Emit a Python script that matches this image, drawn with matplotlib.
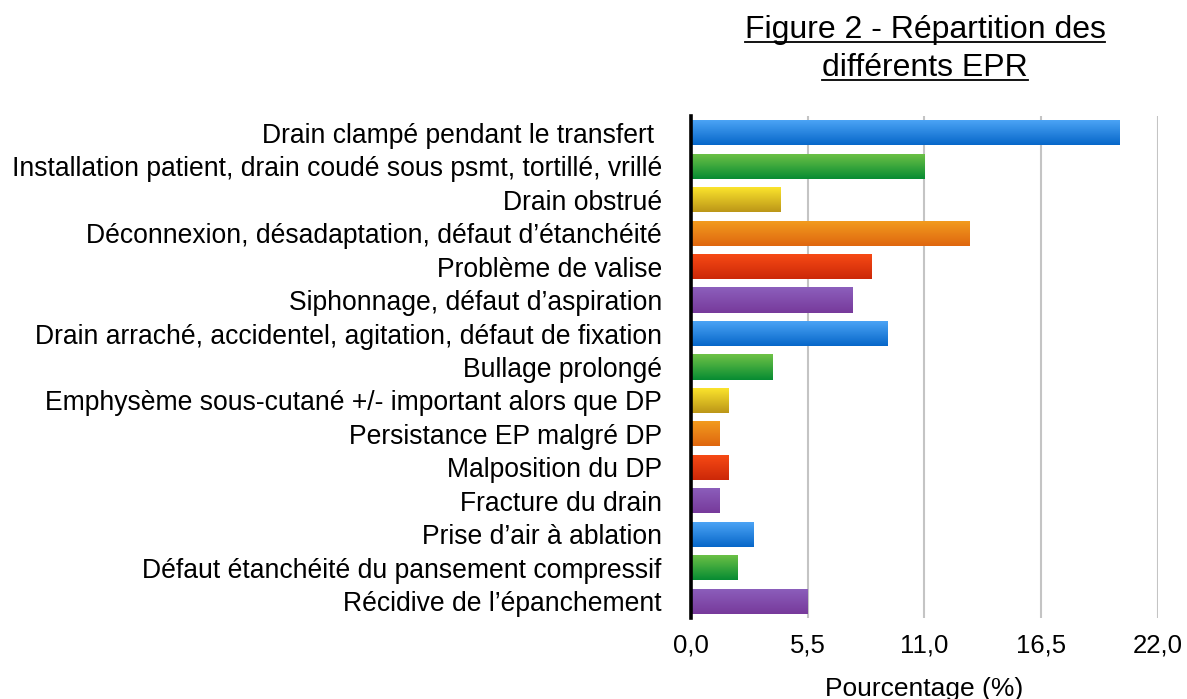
import matplotlib
matplotlib.use("Agg")
import matplotlib.pyplot as plt
import numpy as np
from matplotlib.colors import to_rgb
from matplotlib.lines import Line2D

categories = [
    "Drain clampé pendant le transfert ",
    "Installation patient, drain coudé sous psmt, tortillé, vrillé",
    "Drain obstrué",
    "Déconnexion, désadaptation, défaut d\u2019étanchéité",
    "Problème de valise",
    "Siphonnage, défaut d\u2019aspiration",
    "Drain arraché, accidentel, agitation, défaut de fixation",
    "Bullage prolongé",
    "Emphysème sous-cutané +/- important alors que DP",
    "Persistance EP malgré DP",
    "Malposition du DP",
    "Fracture du drain",
    "Prise d\u2019air à ablation",
    "Défaut étanchéité du pansement compressif",
    "Récidive de l\u2019épanchement",
]
values = [20.2, 11.0, 4.2, 13.1, 8.5, 7.6, 9.25, 3.85, 1.75, 1.35, 1.75, 1.35, 2.95, 2.2, 5.5]
xticks = [0.0, 5.5, 11.0, 16.5, 22.0]
xtick_labels = ["0,0", "5,5", "11,0", "16,5", "22,0"]
title_lines = ["Figure 2 - Répartition des", "différents EPR"]
xlabel = "Pourcentage (%)"

# gradient palettes (top, bottom)
palette = {
    "blue": ("#4ea6f7", "#0767c9"),
    "green": ("#6fc246", "#078c33"),
    "yellow": ("#fde72d", "#bc9618"),
    "orange": ("#f39d1f", "#df670f"),
    "red": ("#f84b15", "#cc2808"),
    "purple": ("#8c5fbc", "#773a9b"),
}
bar_colors = ["blue", "green", "yellow", "orange", "red", "purple",
              "blue", "green", "yellow", "orange", "red", "purple",
              "blue", "green", "purple"]

plt.rcParams['font.family'] = ['Liberation Sans', 'DejaVu Sans']

fig = plt.figure(figsize=(11.87, 6.99), dpi=100)
ax = fig.add_axes([0.5821, 0.1159, 0.3934, 0.7182])

y = np.arange(len(categories))
colors_top = [palette[c][0] for c in bar_colors]
bars = ax.barh(y, values, height=0.75, color=colors_top, zorder=2, linewidth=0)

n = 64
for patch, cname in zip(bars.patches, bar_colors):
    top, bot = palette[cname]
    ct, cb = np.array(to_rgb(top)), np.array(to_rgb(bot))
    t = np.linspace(0, 1, n)[:, None]
    grad = ct[None, :] * (1 - t) + cb[None, :] * t
    img = np.repeat(grad[:, None, :], 2, axis=1)
    x0, y0 = patch.get_x(), patch.get_y()
    w, h = patch.get_width(), patch.get_height()
    im = ax.imshow(img, extent=[x0, x0 + w, y0, y0 + h], origin='lower',
                   aspect='auto', zorder=3, interpolation='bilinear')
    im.set_clip_path(patch)

ax.set_xlim(0, 22)
ax.set_ylim(len(categories) - 0.5, -0.5)
ax.set_xticks(xticks)
ax.set_xticklabels(xtick_labels, fontsize=18.5)
ax.set_yticks(y)
ax.set_yticklabels(categories, fontsize=19.1)
ax.tick_params(axis='both', length=0)
ax.tick_params(axis='y', pad=21)
ax.tick_params(axis='x', pad=11)
ax.grid(axis='x', color='#c4c4c4', linewidth=1.5, zorder=1)
ax.set_axisbelow(True)
for s in ['top', 'right', 'bottom']:
    ax.spines[s].set_visible(False)
ax.spines['left'].set_linewidth(2.6)
ax.spines['left'].set_color('black')
ax.spines['left'].set_zorder(5)

ax.set_xlabel(xlabel, fontsize=19, labelpad=14)

# underlined title
fig.canvas.draw()
renderer = fig.canvas.get_renderer()
cx = 925 / 1187
baselines_px = [38, 76]
for line, ypx in zip(title_lines, baselines_px):
    t = fig.text(cx, 1 - ypx / 699, line, ha='center', va='baseline', fontsize=23)
    bb = t.get_window_extent(renderer=renderer)
    yl = 699 - (ypx + 4)
    fig.add_artist(Line2D([bb.x0 / 1187, bb.x1 / 1187], [yl / 699, yl / 699],
                          transform=fig.transFigure, color='black', linewidth=1.3))

fig.savefig("out.png", dpi=100)
